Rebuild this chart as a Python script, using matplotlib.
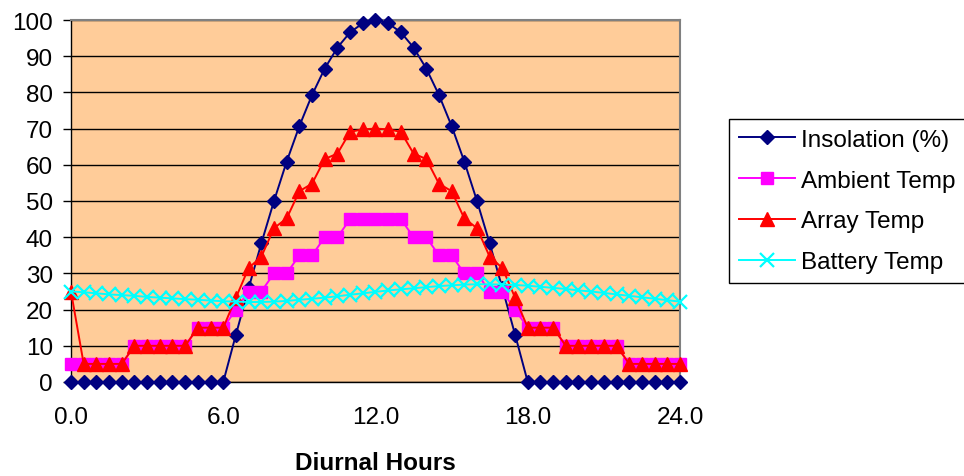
"""
Diurnal profile of insolation and temperatures (ambient, array, battery)
over a 24 hour cycle, sampled every half hour.
"""

import matplotlib
matplotlib.use("Agg")
import matplotlib.pyplot as plt

plt.rcParams["font.family"] = ["Liberation Sans", "DejaVu Sans"]

# ---- data ----
HOURS = [0.0, 0.5, 1.0, 1.5, 2.0, 2.5, 3.0, 3.5, 4.0, 4.5, 5.0, 5.5, 6.0,
         6.5, 7.0, 7.5, 8.0, 8.5, 9.0, 9.5, 10.0, 10.5, 11.0, 11.5, 12.0,
         12.5, 13.0, 13.5, 14.0, 14.5, 15.0, 15.5, 16.0, 16.5, 17.0, 17.5,
         18.0, 18.5, 19.0, 19.5, 20.0, 20.5, 21.0, 21.5, 22.0, 22.5, 23.0,
         23.5, 24.0]

INSOLATION = [0, 0, 0, 0, 0, 0, 0, 0, 0, 0, 0, 0, 0,
              13.1, 25.9, 38.3, 50.0, 60.9, 70.7, 79.3, 86.6, 92.4, 96.6, 99.1,
              100.0,
              99.1, 96.6, 92.4, 86.6, 79.3, 70.7, 60.9, 50.0, 38.3, 25.9, 13.1,
              0, 0, 0, 0, 0, 0, 0, 0, 0, 0, 0, 0, 0]

AMBIENT = [5, 5, 5, 5, 5, 10, 10, 10, 10, 10, 15, 15, 15,
           20, 25, 25, 30, 30, 35, 35, 40, 40, 45, 45, 45,
           45, 45, 40, 40, 35, 35, 30, 30, 25, 25, 20,
           15, 15, 15, 10, 10, 10, 10, 10, 5, 5, 5, 5, 5]

ARRAY = [25, 5, 5, 5, 5, 10, 10, 10, 10, 10, 15, 15, 15,
         23.3, 31.5, 34.6, 42.5, 45.2, 52.7, 54.8, 61.6, 63.1, 69.1, 69.8,
         70.0,
         69.8, 69.1, 63.1, 61.6, 54.8, 52.7, 45.2, 42.5, 34.6, 31.5, 23.3,
         15, 15, 15, 10, 10, 10, 10, 10, 5, 5, 5, 5, 5]

BATTERY = [25.0, 24.8, 24.5, 24.2, 24.0, 23.8, 23.5, 23.3, 23.1, 22.9, 22.7,
           22.5, 22.3, 22.2, 22.1, 22.1, 22.2, 22.4, 22.7, 23.0, 23.3, 23.7,
           24.1, 24.5, 24.9, 25.3, 25.6, 25.9, 26.2, 26.5, 26.7, 26.9, 27.0,
           27.0, 26.9, 26.8, 26.6, 26.3, 26.0, 25.7, 25.3, 25.0, 24.6, 24.2,
           23.8, 23.4, 23.0, 22.6, 22.2]

XTICKS = [0, 6, 12, 18, 24]
XTICK_LABELS = ["0.0", "6.0", "12.0", "18.0", "24.0"]
YTICKS = [0, 10, 20, 30, 40, 50, 60, 70, 80, 90, 100]

FS = 17.5

# ---- figure ----
W, H = 964, 477
fig = plt.figure(figsize=(W / 100, H / 100), dpi=100)
ax = fig.add_axes([71 / W, 1 - 383 / H, (680 - 71) / W, (383 - 21) / H])
ax.set_facecolor("#FFCC99")

ax.plot(HOURS, INSOLATION, color="#000080", marker="D", ms=7.5, lw=1.4,
        label="Insolation (%)", clip_on=False, zorder=3)
ax.plot(HOURS, AMBIENT, color="#FF00FF", marker="s", ms=9, lw=1.4,
        label="Ambient Temp", clip_on=False, zorder=4)
ax.plot(HOURS, ARRAY, color="#FF0000", marker="^", ms=9.5, lw=1.4,
        label="Array Temp", clip_on=False, zorder=5)
ax.plot(HOURS, BATTERY, color="#00FFFF", marker="x", ms=9.5, mew=1.6, lw=1.4,
        label="Battery Temp", clip_on=False, zorder=6)

ax.set_xlim(0, 24); ax.set_ylim(0, 100)
ax.set_xticks(XTICKS); ax.set_xticklabels(XTICK_LABELS)
ax.set_yticks(YTICKS)
ax.set_axisbelow(True)
ax.yaxis.grid(True, color="black", lw=1)

for s in ("left", "bottom"):
    ax.spines[s].set_color("black"); ax.spines[s].set_linewidth(1)
for s in ("top", "right"):
    ax.spines[s].set_color("#808080"); ax.spines[s].set_linewidth(1.5)

ax.tick_params(axis="y", direction="out", length=6, width=1, pad=7, labelsize=FS)
ax.tick_params(axis="x", length=0, pad=17, labelsize=FS)
ax.set_xlabel("Diurnal Hours", fontweight="bold", fontsize=FS)
ax.xaxis.set_label_coords(0.5, (383 - 464) / 362)
ax.xaxis.label.set_va("center")

leg = fig.legend(loc="center left", bbox_to_anchor=(729 / W, 1 - 202 / H),
                 fontsize=FS, frameon=True, fancybox=False, framealpha=1,
                 edgecolor="black", borderpad=0.4, labelspacing=0.78,
                 handlelength=2.3, handletextpad=0.25, borderaxespad=0)
leg.get_frame().set_linewidth(1)

fig.savefig("out.png", dpi=100)
